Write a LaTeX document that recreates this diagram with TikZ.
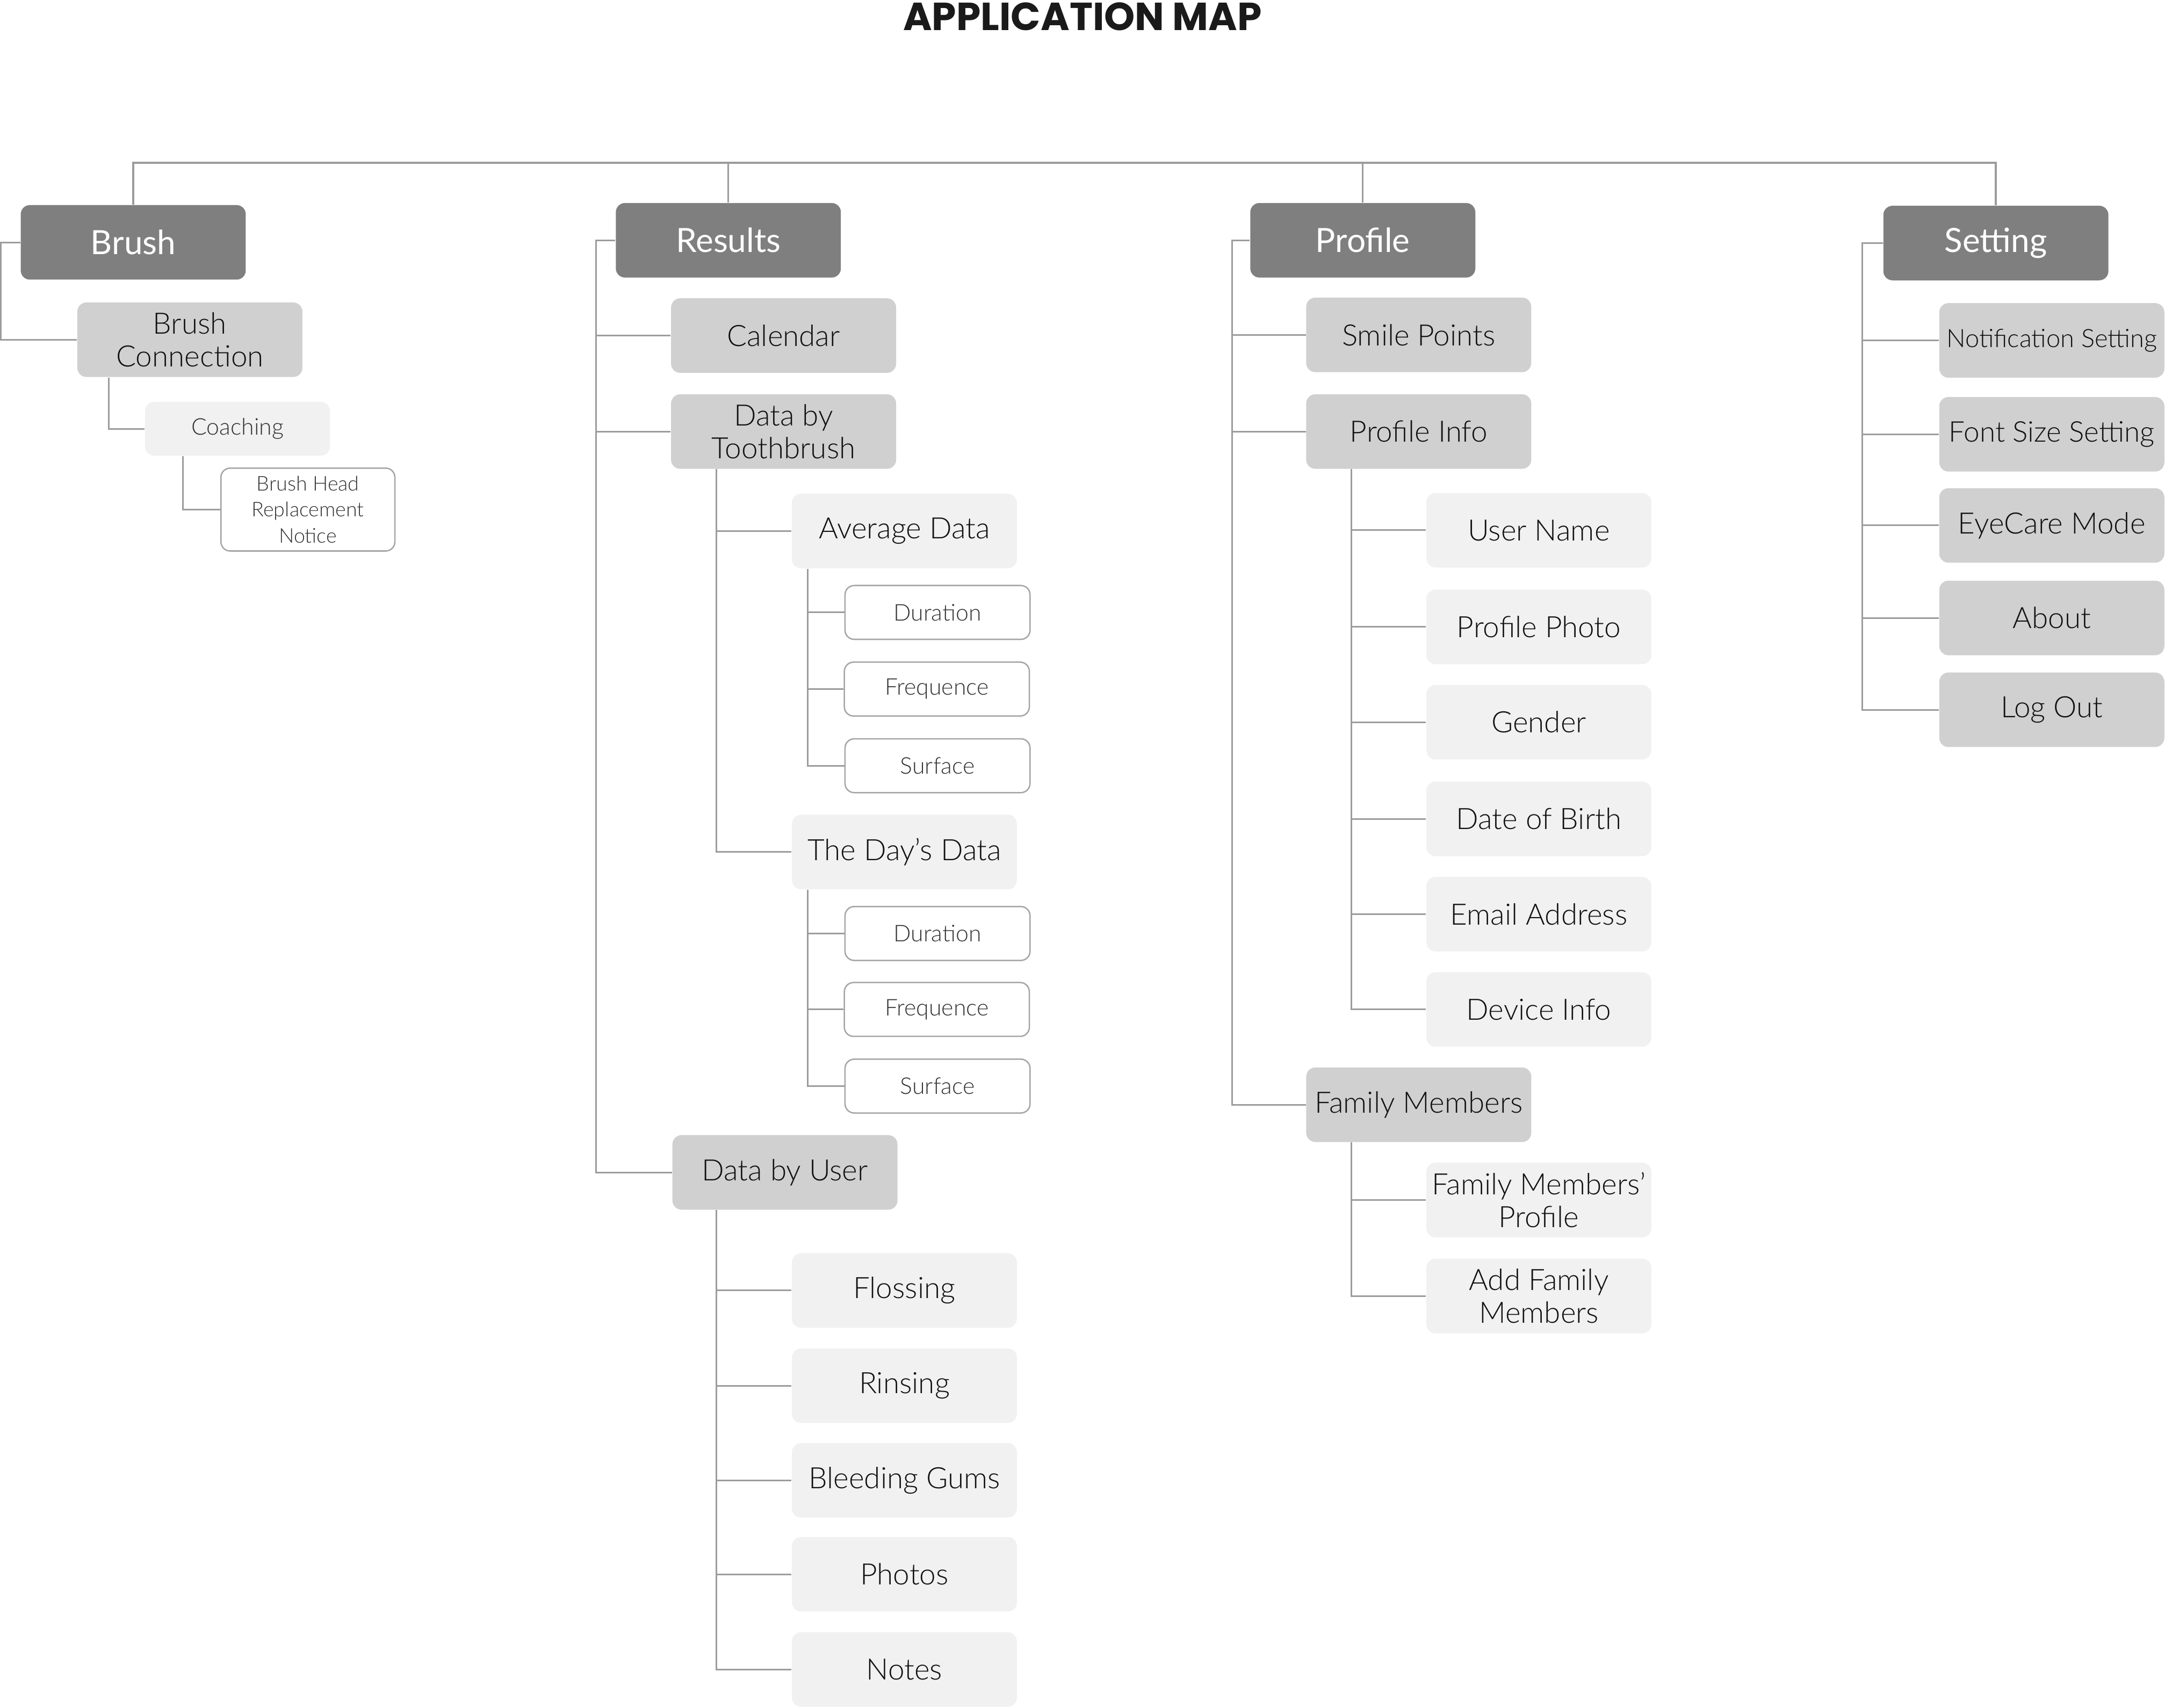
\documentclass[tikz,border=0pt]{standalone}
\usepackage{fontspec}
\setmainfont{Lato}
\newfontfamily\lightfont{Lato Light}
\newfontfamily\titlefont{Poppins}
\usetikzlibrary{calc}
\definecolor{hdrc}{HTML}{7F7F7F}
\definecolor{lvtwoc}{HTML}{D0D0D0}
\definecolor{lvthreec}{HTML}{F1F1F1}
\definecolor{bordc}{HTML}{A6A6A6}
\definecolor{linec}{HTML}{9C9C9C}
\definecolor{txtc}{HTML}{111111}
\definecolor{smallc}{HTML}{333333}
\definecolor{titlec}{HTML}{1A1A1A}
\begin{document}
\begin{tikzpicture}[x=0.6pt,y=-0.6pt,
  box/.style={rounded corners=4pt, minimum width=97.8pt, minimum height=32.4pt, inner sep=2pt, align=center, font=\lightfont\fontsize{12.8}{14.4}\selectfont},
  hdrbox/.style={box, fill=hdrc, text=white, font=\fontsize{14.5}{16}\selectfont},
  lvtwo/.style={box, fill=lvtwoc, text=txtc},
  lvthree/.style={box, fill=lvthreec, text=txtc},
  lvsmall/.style={box, fill=lvthreec, text=smallc, minimum width=80.4pt, minimum height=23.4pt, font=\lightfont\fontsize{10}{12}\selectfont},
  lvfour/.style={box, draw=bordc, line width=0.6pt, fill=white, minimum width=80.4pt, minimum height=23.4pt, text=smallc, font=\lightfont\fontsize{10}{12}\selectfont},
  conn/.style={draw=linec, line width=0.7pt}]
\useasboundingbox (0,0) rectangle (1568,1236.5);

\node[font=\titlefont\bfseries\fontsize{17}{20}\selectfont, text=titlec, anchor=base] (title) at (784,22) {APPLICATION MAP};

% headers
\node[hdrbox] (brush) at (96.5,175.5) {Brush};
\node[hdrbox] (results) at (527.5,174) {Results};
\node[hdrbox] (profile) at (987,174) {Profile};
\node[hdrbox] (setting) at (1445.5,176) {Setting};

% Brush subtree
\node[lvtwo] (bconn) at (137.5,246) {Brush\\Connection};
\node[lvsmall] (coach) at (172,310.5) {Coaching};
\node[lvfour, minimum width=75.6pt, minimum height=36pt, font=\lightfont\fontsize{8.8}{11.3}\selectfont] (bhead) at (223,369) {Brush Head\\Replacement\\Notice};

% Results subtree
\node[lvtwo] (calendar) at (567.5,243) {Calendar};
\node[lvtwo] (dtooth) at (567.5,312.5) {Data by\\Toothbrush};
\node[lvtwo] (duser) at (568.5,849) {Data by User};
\node[lvthree] (avg) at (655,384.5) {Average Data};
\node[lvfour] (dur1) at (679,443.5) {Duration};
\node[lvfour] (freq1) at (678.5,499) {Frequence};
\node[lvfour] (surf1) at (679,554.5) {Surface};
\node[lvthree] (day) at (655,617) {The Day’s Data};
\node[lvfour] (dur2) at (679,676) {Duration};
\node[lvfour] (freq2) at (678.5,731) {Frequence};
\node[lvfour] (surf2) at (679,786.5) {Surface};
\node[lvthree] (floss) at (655,934.5) {Flossing};
\node[lvthree] (rinse) at (655,1003.5) {Rinsing};
\node[lvthree] (bleed) at (655,1072) {Bleeding Gums};
\node[lvthree] (photos) at (655,1140) {Photos};
\node[lvthree] (notes) at (655,1209) {Notes};

% Profile subtree
\node[lvtwo] (smile) at (1027.5,242.5) {Smile Points};
\node[lvtwo] (pinfo) at (1027.5,312.5) {Profile Info};
\node[lvtwo] (family) at (1027.5,800) {Family Members};
\node[lvthree] (uname) at (1114.5,384) {User Name};
\node[lvthree] (pphoto) at (1114.5,454) {Profile Photo};
\node[lvthree] (gender) at (1114.5,523) {Gender};
\node[lvthree] (dob) at (1114.5,593) {Date of Birth};
\node[lvthree] (email) at (1114.5,662) {Email Address};
\node[lvthree] (device) at (1114.5,731) {Device Info};
\node[lvthree] (fmp) at (1114.5,869) {Family Members’\\Profile};
\node[lvthree] (addfm) at (1114.5,938.5) {Add Family\\Members};

% Setting subtree
\node[lvtwo, font=\lightfont\fontsize{11}{13}\selectfont] (notif) at (1486,246.5) {Notification Setting};
\node[lvtwo, font=\lightfont\fontsize{12.4}{14}\selectfont] (fontsz) at (1486,314.5) {Font Size Setting};
\node[lvtwo] (eye) at (1486,380.5) {EyeCare Mode};
\node[lvtwo] (about) at (1486,447.5) {About};
\node[lvtwo] (logout) at (1486,514) {Log Out};

% connectors
\coordinate (top) at (0,118);
\draw[conn, line width=0.9pt] (brush.north) -- (brush.north |- top) -- (setting.north |- top) -- (setting.north);
\draw[conn] (results.north) -- (results.north |- top);
\draw[conn] (profile.north) -- (profile.north |- top);

\draw[conn] (brush.west) -- ++(-14,0) |- (bconn.west);
\draw[conn] ($(bconn.south west)+(23,0)$) |- (coach.west);
\draw[conn] ($(coach.south west)+(28,0)$) |- (bhead.west);

\foreach \n in {calendar,dtooth,duser} \draw[conn] (results.west) -- ++(-14,0) |- (\n.west);
\foreach \n in {avg,day} \draw[conn] ($(dtooth.south west)+(33,0)$) |- (\n.west);
\foreach \n in {dur1,freq1,surf1} \draw[conn] ($(avg.south west)+(12,0)$) |- (\n.west);
\foreach \n in {dur2,freq2,surf2} \draw[conn] ($(day.south west)+(12,0)$) |- (\n.west);
\foreach \n in {floss,rinse,bleed,photos,notes} \draw[conn] ($(duser.south west)+(32,0)$) |- (\n.west);

\foreach \n in {smile,pinfo,family} \draw[conn] (profile.west) -- ++(-13,0) |- (\n.west);
\foreach \n in {uname,pphoto,gender,dob,email,device} \draw[conn] ($(pinfo.south west)+(33,0)$) |- (\n.west);
\foreach \n in {fmp,addfm} \draw[conn] ($(family.south west)+(33,0)$) |- (\n.west);

\foreach \n in {notif,fontsz,eye,about,logout} \draw[conn] (setting.west) -- ++(-15,0) |- (\n.west);
\end{tikzpicture}
\end{document}
